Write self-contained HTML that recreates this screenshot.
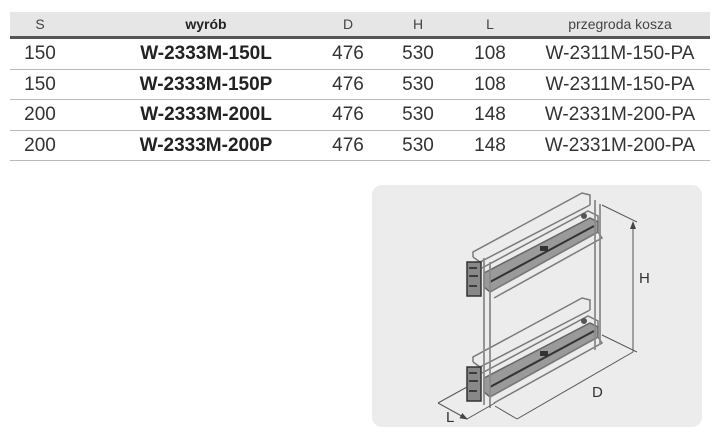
<!DOCTYPE html>
<html><head><meta charset="utf-8"><style>
body{margin:0;width:720px;height:442px;background:#fff;font-family:"Liberation Sans",sans-serif;position:relative;overflow:hidden}
.t{position:absolute;left:10px;top:12px;width:700px}
.row{position:relative;height:29.5px;border-bottom:1.5px solid #bbb;color:#333;font-size:19px}
.hd{height:24px;background:#e6e6e6;border-bottom:3px solid #555;font-size:14px;color:#444}
.row span{position:absolute;transform:translateX(-50%);white-space:nowrap;top:4px}
.hd span{top:4px}
b{font-weight:bold;color:#222}
</style></head><body>
<div class="t">
<div class="row hd"><span style="left:30px">S</span><span style="left:196px"><b>wyrób</b></span><span style="left:338px">D</span><span style="left:408px">H</span><span style="left:480px">L</span><span style="left:610px">przegroda kosza</span></div>
<div class="row"><span style="left:30px">150</span><span style="left:196px"><b>W-2333M-150L</b></span><span style="left:338px">476</span><span style="left:408px">530</span><span style="left:480px">108</span><span style="left:610px">W-2311M-150-PA</span></div>
<div class="row"><span style="left:30px">150</span><span style="left:196px"><b>W-2333M-150P</b></span><span style="left:338px">476</span><span style="left:408px">530</span><span style="left:480px">108</span><span style="left:610px">W-2311M-150-PA</span></div>
<div class="row"><span style="left:30px">200</span><span style="left:196px"><b>W-2333M-200L</b></span><span style="left:338px">476</span><span style="left:408px">530</span><span style="left:480px">148</span><span style="left:610px">W-2331M-200-PA</span></div>
<div class="row"><span style="left:30px">200</span><span style="left:196px"><b>W-2333M-200P</b></span><span style="left:338px">476</span><span style="left:408px">530</span><span style="left:480px">148</span><span style="left:610px">W-2331M-200-PA</span></div>
</div>
<div style="position:absolute;left:372px;top:185px;width:330px;height:242px;background:#ececec;border-radius:10px"></div>
<svg style="position:absolute;left:0;top:0" width="720" height="442">
<defs><g id="b" fill="none" stroke="#7a7a7a" stroke-width="1.5">
<path d="M473 257 L473 252 L582 193 L590 195 L590 205"/>
<path d="M473 257 L480 262 L590 205"/>
<path d="M482 268 L588 211 L598 216 L598 222"/>
<path d="M484 273 L590 218 L598 222 L598 232 L490 292 L484 287 Z" fill="#9a9a9a" stroke="#666"/>
<path d="M490 282 L594 226" stroke="#333" stroke-width="2"/>
<path d="M490 292 L598 232 L602 238 L494 298"/>
<rect x="467" y="262" width="14" height="34" fill="#888" stroke="#333"/>
<path d="M469 268 h8 M469 276 h9 M469 286 h8" stroke="#222"/>
<rect x="540" y="246" width="8" height="5" fill="#333" stroke="none"/>
<circle cx="584" cy="216" r="3" fill="#555" stroke="none"/>
</g>
<marker id="a" markerWidth="8" markerHeight="6" refX="7" refY="3" orient="auto-start-reverse"><path d="M0 0 L8 3 L0 6 Z" fill="#444"/></marker>
</defs>
<use href="#b"/><use href="#b" transform="translate(0,105)"/>
<g stroke="#8a8a8a" stroke-width="1.8" fill="none">
<path d="M484 258 V405 M490 262 V408 M595 200 V350 M600 204 V345"/>
</g>
<g stroke="#555" stroke-width="1" fill="none">
<path d="M602 205 L637 222 M602 335 L637 352 M495 406 L517 419 M438 403 L467 387 M467 419 L495 403"/>
<path d="M633 222 V352 M517 419 L633 352 M438 403 L467 419" marker-start="url(#a)" marker-end="url(#a)"/>
</g>
<g fill="#333" font-family="Liberation Sans,sans-serif" font-size="15">
<text x="639" y="283">H</text><text x="592" y="397">D</text><text x="446" y="422">L</text>
</g>
</svg>
</body></html>
